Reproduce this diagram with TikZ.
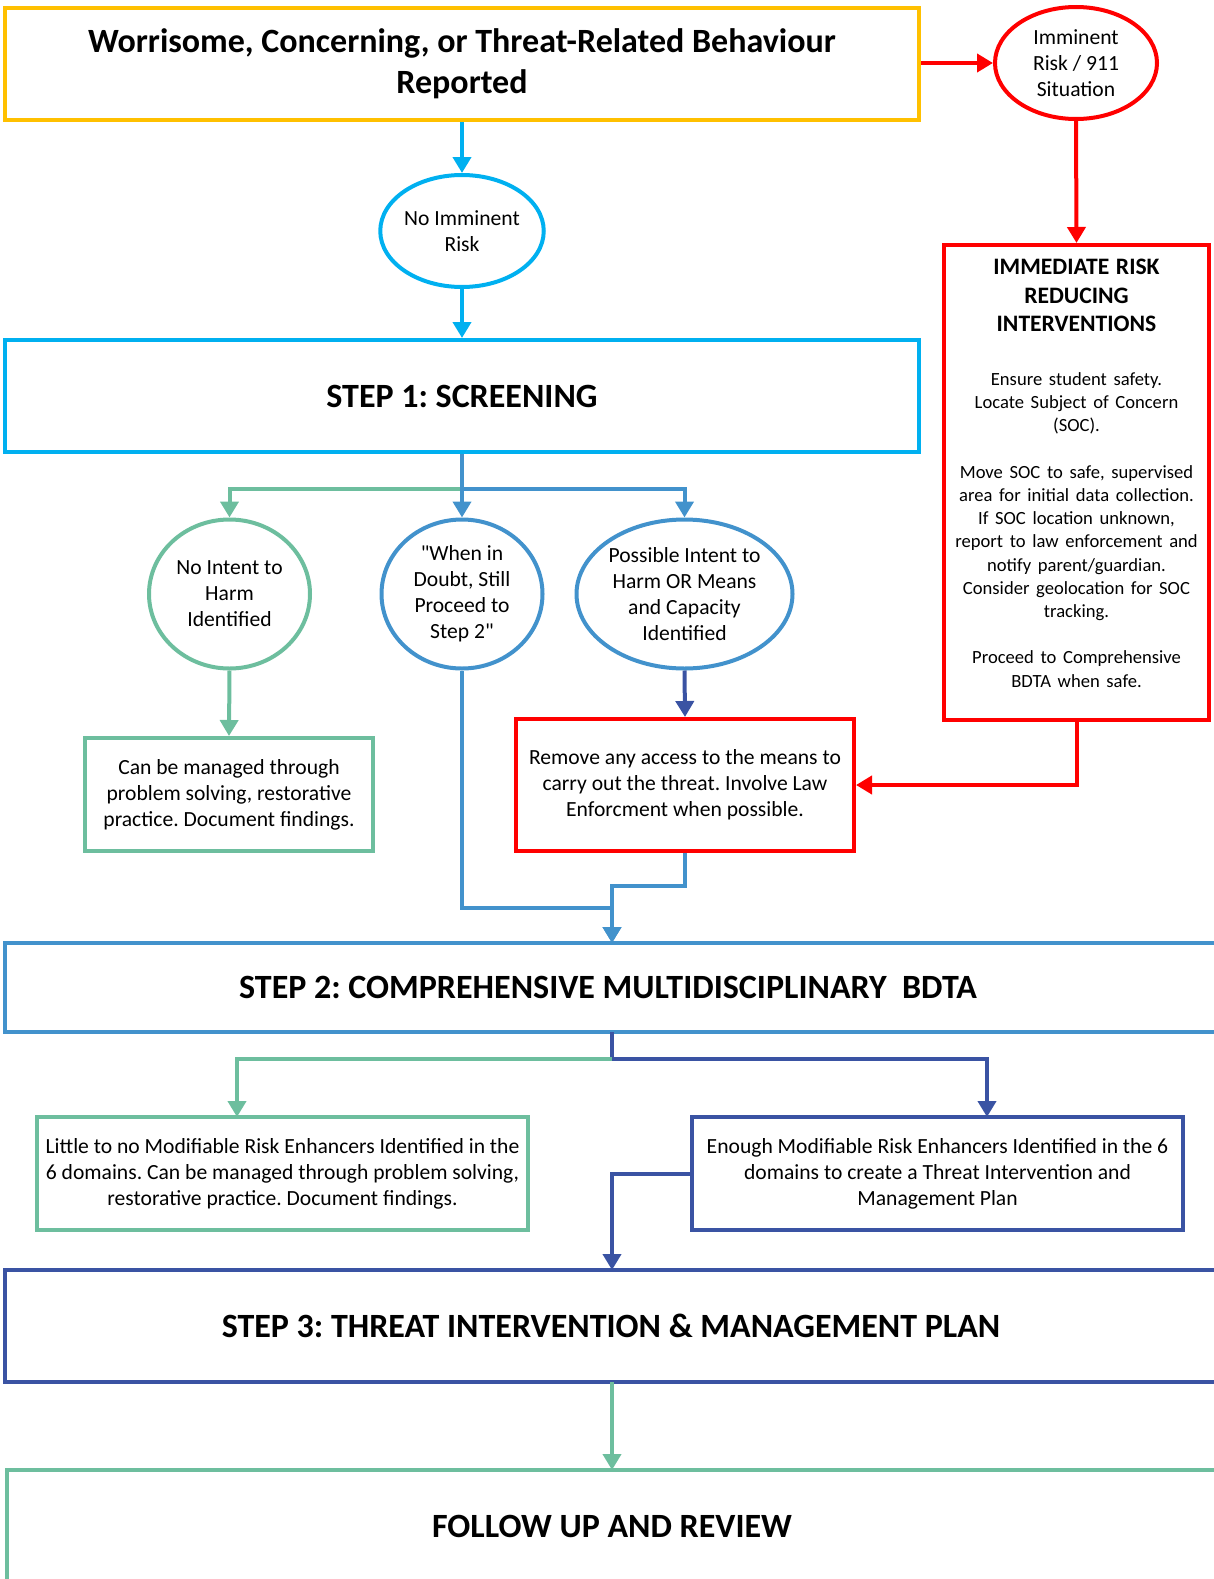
\documentclass[tikz,border=0pt]{standalone}
\usepackage{fontspec}
\setmainfont{Carlito}
\newfontfamily\plainfont{Carlito}
\frenchspacing
\usetikzlibrary{shapes.geometric,arrows.meta,calc}
\definecolor{yel}{HTML}{FFC000}
\definecolor{cyanb}{HTML}{00B0F0}
\definecolor{redc}{HTML}{FF0000}
\definecolor{grn}{HTML}{6DBE9E}
\definecolor{mblue}{HTML}{4292CC}
\definecolor{dblue}{HTML}{3A53A3}
\begin{document}
\begin{tikzpicture}[x=0.5pt,y=-0.5pt,
  box/.style={draw, rectangle, line width=2pt, inner sep=0pt, align=center},
  ell/.style={draw, ellipse, line width=2pt, inner sep=0pt, align=center},
  arr/.style={line width=2pt, -{Triangle[width=9pt,length=8pt]}},
  ln/.style={line width=2pt},
  body/.style={font=\fontsize{10.8}{12.95}\selectfont},
  big/.style={font=\fontsize{17}{20.6}\selectfont\bfseries}
]
\useasboundingbox (0,0) rectangle (1214,1579);
\clip (0,0) rectangle (1214,1579);

% nodes
\node[box, draw=yel, minimum width=457pt, minimum height=56pt, big] (top) at (462,64)
  {Worrisome, Concerning, or Threat-Related Behaviour\\Reported};
\node[ell, draw=redc, minimum width=81pt, minimum height=56pt, body] (imm) at (1076,63)
  {Imminent\\Risk / 911\\Situation};
\node[ell, draw=cyanb, minimum width=81pt, minimum height=56pt, body] (noimm) at (462,231)
  {No Imminent\\Risk};
\node[box, draw=cyanb, minimum width=457pt, minimum height=56pt, big] (s1) at (462,396)
  {STEP 1: SCREENING};
\node[ell, draw=grn, minimum width=80.5pt, minimum height=74.5pt, body] (c1) at (229.5,594)
  {No Intent to\\Harm\\Identified};
\node[ell, draw=mblue, minimum width=80.5pt, minimum height=74.5pt, body] (c2) at (462,594)
  {{\plainfont"}When in\\Doubt, Still\\Proceed to\\Step 2{\plainfont"}};
\node[ell, draw=mblue, minimum width=108pt, minimum height=74.5pt, body] (c3) at (684.5,594)
  {Possible Intent to\\Harm OR Means\\and Capacity\\Identified};
\node[box, draw=grn, minimum width=144pt, minimum height=56.5pt, body] (g1) at (229,794.5)
  {Can be managed through\\problem solving, restorative\\practice. Document findings.};
\node[box, draw=redc, minimum width=169pt, minimum height=66pt, body] (rm) at (685,785)
  {Remove any access to the means to\\carry out the threat. Involve Law\\Enforcment when possible.};
\node[box, draw=redc, minimum width=132.5pt, minimum height=237.5pt] (irr) at (1076.5,482.5) {};
\node[anchor=north, text width=130pt, align=center, inner sep=0pt] (irrt) at (1076.5,259)
  {{\fontsize{11.8}{14.1}\selectfont\bfseries IMMEDIATE RISK\\REDUCING\\INTERVENTIONS\par}
   \vspace{15.5pt}
   {\fontsize{9.3}{11.6}\selectfont Ensure student safety.\\Locate Subject of Concern\\(SOC).\\[11.6pt]Move SOC to safe, supervised\\area for initial data collection.\\If SOC location unknown,\\report to law enforcement and\\notify parent/guardian.\\Consider geolocation for SOC\\tracking.\\[11.6pt]Proceed to Comprehensive\\BDTA when safe.\par}};
\node[box, draw=mblue, minimum width=612.5pt, minimum height=44.5pt] (s2) at (617.5,987.5) {};
\node[big] (s2t) at (608,987.5) {STEP 2: COMPREHENSIVE MULTIDISCIPLINARY\ \ BDTA};
\node[box, draw=grn, minimum width=245.5pt, minimum height=56.5pt, body] (g2) at (282.5,1173.5)
  {Little to no Modifiable Risk Enhancers Identified in the\\6 domains. Can be managed through problem solving,\\restorative practice. Document findings.};
\node[box, draw=dblue, minimum width=245.5pt, minimum height=56.5pt, body] (d2) at (937.5,1173.5)
  {Enough Modifiable Risk Enhancers Identified in the 6\\domains to create a Threat Intervention and\\Management Plan};
\node[box, draw=dblue, minimum width=612.5pt, minimum height=56pt] (s3) at (617.5,1326) {};
\node[big] (s3t) at (611,1326) {STEP 3: THREAT INTERVENTION \& MANAGEMENT PLAN};
\node[box, draw=grn, minimum width=611.5pt, minimum height=65pt] (fu) at (618.5,1535) {};
\node[big] (fut) at (612,1526) {FOLLOW UP AND REVIEW};

% coordinates
\coordinate (j1) at (462,489);
\coordinate (j2) at (612,908);
\coordinate (j3) at (685,886);
\coordinate (s2in) at (612,943);
\coordinate (s2out) at (612,1032);
\coordinate (j4) at (612,1059);
\coordinate (g2in) at (237,1117);
\coordinate (d2in) at (987,1117);
\coordinate (s3in) at (612,1270);
\coordinate (s3out) at (612,1382);
\coordinate (fuin) at (612,1470);

% connectors
\draw[arr, cyanb] (top.south) -- (noimm.north);
\draw[arr, redc] (top.east |- imm.west) -- (imm.west);
\draw[arr, redc] (imm.south) -- (irr.north);
\draw[arr, cyanb] (noimm.south) -- (s1.north);
\draw[arr, grn] (j1) -| (c1.north);
\draw[arr, mblue] (j1) -| (c3.north);
\draw[arr, mblue] (s1.south) -- (c2.north);
\draw[arr, grn] (c1.south) -- (g1.north);
\draw[arr, dblue] (c3.south) -- (rm.north);
\draw[arr, redc] (irr.south) |- (rm.east);
\draw[arr, mblue] (c2.south) |- (j2) -- (s2in);
\draw[arr, mblue] (rm.south) -- (j3) -| (s2in);
\draw[ln, dblue] (s2out) -- (j4);
\draw[arr, grn] (j4) -| (g2in);
\draw[arr, dblue] (j4) -| (d2in);
\draw[arr, dblue] (d2.west) -| (s3in);
\draw[arr, grn] (s3out) -- (fuin);
\end{tikzpicture}
\end{document}
